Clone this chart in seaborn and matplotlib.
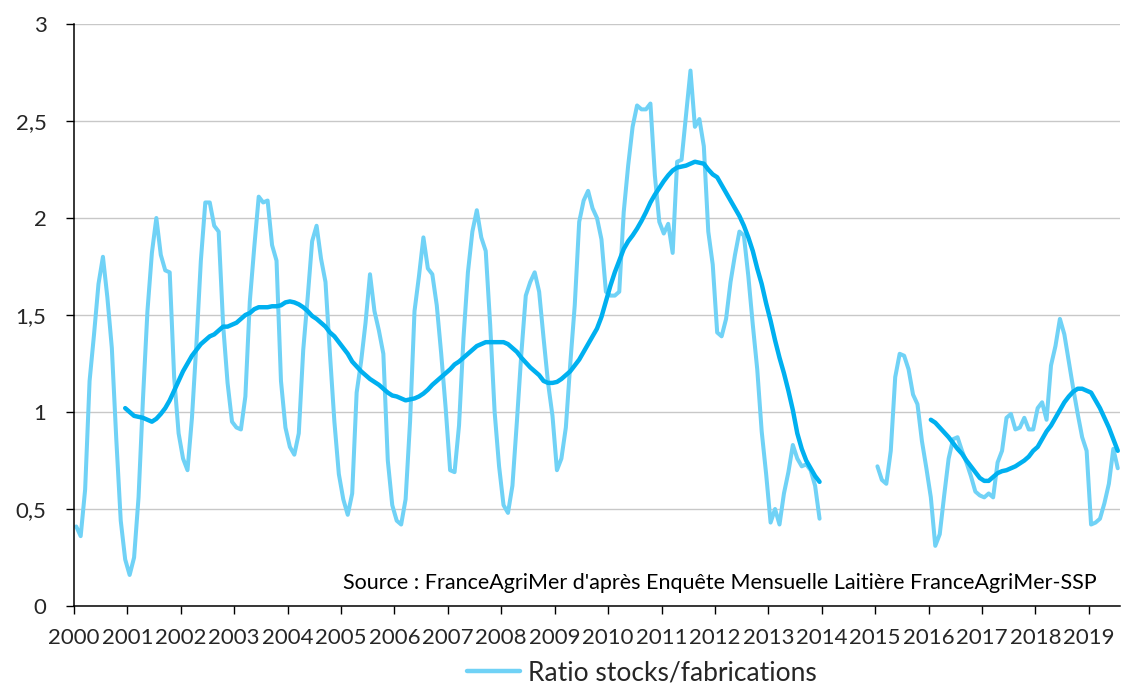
import numpy as np
import pandas as pd
import matplotlib
matplotlib.use("Agg")
import matplotlib.pyplot as plt
import seaborn as sns
from matplotlib.lines import Line2D

# ---------------- data (monthly ratio stocks / fabrications) ----------------
year_labels = [str(y) for y in range(2000, 2020)]
y_tick_values = [0, 0.5, 1, 1.5, 2, 2.5, 3]
y_tick_labels = ["0", "0,5", "1", "1,5", "2", "2,5", "3"]

r2000 = [0.41, 0.36, 0.60, 1.16, 1.40, 1.66, 1.80, 1.59, 1.33, 0.86, 0.44, 0.24]
r2001 = [0.16, 0.25, 0.56, 1.07, 1.52, 1.82, 2.00, 1.81, 1.73, 1.72, 1.18, 0.89]
r2002 = [0.76, 0.70, 0.97, 1.35, 1.78, 2.08, 2.08, 1.96, 1.93, 1.45, 1.15, 0.95]
r2003 = [0.92, 0.91, 1.08, 1.57, 1.85, 2.11, 2.08, 2.09, 1.86, 1.78, 1.16, 0.92]
r2004 = [0.82, 0.78, 0.89, 1.32, 1.59, 1.88, 1.96, 1.79, 1.67, 1.30, 0.95, 0.68]
r2005 = [0.55, 0.47, 0.58, 1.10, 1.26, 1.46, 1.71, 1.52, 1.42, 1.30, 0.75, 0.52]
r2006 = [0.44, 0.42, 0.55, 0.95, 1.52, 1.70, 1.90, 1.74, 1.71, 1.55, 1.30, 1.02]
r2007 = [0.70, 0.69, 0.93, 1.38, 1.72, 1.93, 2.04, 1.90, 1.83, 1.45, 1.00, 0.72]
r2008 = [0.52, 0.48, 0.62, 0.95, 1.30, 1.60, 1.67, 1.72, 1.62, 1.38, 1.15, 0.98]
r2009 = [0.70, 0.76, 0.92, 1.25, 1.55, 1.98, 2.09, 2.14, 2.05, 2.00, 1.89, 1.62]
r2010 = [1.60, 1.60, 1.62, 2.03, 2.27, 2.47, 2.58, 2.56, 2.56, 2.59, 2.22, 1.98]
r2011 = [1.92, 1.97, 1.82, 2.29, 2.30, 2.53, 2.76, 2.47, 2.51, 2.37, 1.93, 1.76]
r2012 = [1.41, 1.39, 1.48, 1.67, 1.81, 1.93, 1.91, 1.70, 1.45, 1.22, 0.90, 0.68]
r2013 = [0.43, 0.50, 0.42, 0.58, 0.69, 0.83, 0.76, 0.72, 0.73, 0.70, 0.62, 0.45]
r2014 = [np.nan] * 12
r2015 = [0.72, 0.65, 0.63, 0.80, 1.18, 1.30, 1.29, 1.22, 1.09, 1.04, 0.85, 0.71]
r2016 = [0.56, 0.31, 0.37, 0.57, 0.76, 0.86, 0.87, 0.80, 0.74, 0.67, 0.59, 0.57]
r2017 = [0.56, 0.58, 0.56, 0.74, 0.80, 0.97, 0.99, 0.91, 0.92, 0.97, 0.91, 0.91]
r2018 = [1.02, 1.05, 0.96, 1.24, 1.34, 1.48, 1.40, 1.26, 1.12, 0.99, 0.87, 0.80]
r2019 = [0.42, 0.43, 0.45, 0.53, 0.63, 0.81, 0.71]

ratio = (r2000 + r2001 + r2002 + r2003 + r2004 + r2005 + r2006 + r2007 + r2008
         + r2009 + r2010 + r2011 + r2012 + r2013 + r2014 + r2015 + r2016 + r2017
         + r2018 + r2019)

# 12-month moving average (dark line)
# first part: Dec 2000 -> Dec 2013
ma_part1 = [1.02, 1.00, 0.98, 0.975, 0.97, 0.96, 0.95, 0.965, 0.99, 1.02, 1.06, 1.11,
            1.16, 1.21, 1.25, 1.29, 1.32, 1.35, 1.37, 1.39, 1.40, 1.42, 1.44, 1.44,
            1.45, 1.46, 1.48, 1.50, 1.51, 1.53, 1.54, 1.54, 1.54, 1.545, 1.545, 1.55,
            1.565, 1.57, 1.565, 1.555, 1.54, 1.52, 1.495, 1.48, 1.46, 1.44, 1.41, 1.39,
            1.36, 1.33, 1.30, 1.26, 1.235, 1.21, 1.19, 1.17, 1.155, 1.14, 1.12, 1.10,
            1.085, 1.08, 1.07, 1.06, 1.065, 1.07, 1.08, 1.095, 1.115, 1.14, 1.16, 1.18,
            1.20, 1.22, 1.245, 1.26, 1.28, 1.30, 1.32, 1.34, 1.35, 1.36, 1.36, 1.36,
            1.36, 1.36, 1.35, 1.33, 1.31, 1.28, 1.255, 1.23, 1.21, 1.19, 1.16, 1.15,
            1.15, 1.155, 1.17, 1.19, 1.21, 1.24, 1.27, 1.31, 1.35, 1.39, 1.43, 1.49,
            1.57, 1.65, 1.72, 1.78, 1.84, 1.88, 1.91, 1.945, 1.985, 2.03, 2.08, 2.12,
            2.155, 2.19, 2.22, 2.245, 2.26, 2.265, 2.27, 2.28, 2.29, 2.285, 2.28, 2.25,
            2.225, 2.21, 2.17, 2.13, 2.09, 2.05, 2.01, 1.96, 1.90, 1.83, 1.74, 1.66,
            1.56, 1.47, 1.37, 1.28, 1.20, 1.11, 1.01, 0.89, 0.81, 0.75, 0.71, 0.67,
            0.64]
# second part: Jan 2016 -> Jul 2019
ma_part2 = [0.96, 0.945, 0.92, 0.895, 0.87, 0.84, 0.81, 0.785, 0.75, 0.72, 0.69, 0.66,
            0.645, 0.645, 0.665, 0.685, 0.695, 0.70, 0.71, 0.72, 0.735, 0.75, 0.77, 0.80,
            0.82, 0.86, 0.90, 0.93, 0.97, 1.01, 1.05, 1.08, 1.105, 1.12, 1.12, 1.11,
            1.10, 1.06, 1.02, 0.97, 0.92, 0.86, 0.80]

ma_start1 = 11    # Dec 2000 (month index from Jan 2000)
ma_start2 = 192   # Jan 2016

series_label = "Ratio stocks/fabrications"
source_text = "Source : FranceAgriMer d'après Enquête Mensuelle Laitière FranceAgriMer-SSP"

# ---------------- frame ----------------
n = len(ratio)
ma = [np.nan] * n
for i, v in enumerate(ma_part1):
    ma[ma_start1 + i] = v
for i, v in enumerate(ma_part2):
    ma[ma_start2 + i] = v

df = pd.DataFrame({"pos": np.arange(n) + 0.5, "ratio": ratio, "ma": ma})
df["seg_r"] = df["ratio"].isna().astype(int).diff().fillna(0).ne(0).cumsum()
df["seg_m"] = df["ma"].isna().astype(int).diff().fillna(0).ne(0).cumsum()

LIGHT = "#70D2F6"
DARK = "#00B0F0"

sns.set_style("white")
plt.rcParams["font.family"] = ["Lato", "DejaVu Sans"]

fig = plt.figure(figsize=(11.22, 6.84), dpi=100)
ax = fig.add_axes([74 / 1122, 1 - 606 / 684, (1120 - 74) / 1122, (606 - 24) / 684])

for _, part in df.groupby("seg_r"):
    part = part.dropna(subset=["ratio"])
    if len(part) == 0:
        continue
    sns.lineplot(data=part, x="pos", y="ratio", color=LIGHT, linewidth=2.9,
                 estimator=None, ax=ax, solid_capstyle="round",
                 solid_joinstyle="round", legend=False)
for _, part in df.groupby("seg_m"):
    part = part.dropna(subset=["ma"])
    if len(part) == 0:
        continue
    sns.lineplot(data=part, x="pos", y="ma", color=DARK, linewidth=3.2,
                 estimator=None, ax=ax, solid_capstyle="round",
                 solid_joinstyle="round", legend=False)

ax.set_xlim(0, n)
ax.set_ylim(0, 3)
ax.set_xticks([12 * i for i in range(len(year_labels))])
ax.set_xticklabels(year_labels)
ax.set_yticks(y_tick_values)
ax.set_yticklabels(y_tick_labels)
ax.set_xlabel("")
ax.set_ylabel("")

ax.grid(axis="y", color="#C8C8C8", linewidth=1.0)
ax.grid(axis="x", visible=False)
ax.set_axisbelow(True)
for s in ["top", "right"]:
    ax.spines[s].set_visible(False)
for s in ["left", "bottom"]:
    ax.spines[s].set_color("black")
    ax.spines[s].set_linewidth(1.1)
    ax.spines[s].set_zorder(5)

ax.tick_params(axis="y", direction="out", length=5.8, width=1.0, color="black",
               pad=14, labelsize=16, left=True)
ax.tick_params(axis="x", direction="out", length=5.8, width=1.0, color="black",
               pad=10, labelsize=16, bottom=True)

fig.text(1097 / 1122, 1 - 583 / 684, source_text, ha="right", va="center",
         fontsize=15.5, color="black")

handle = Line2D([], [], color=LIGHT, linewidth=3.2)
leg = fig.legend([handle], [series_label], loc="center left",
                 bbox_to_anchor=(467 / 1122, 1 - 673 / 684), frameon=False,
                 fontsize=19, handlelength=2.0, handletextpad=0.3,
                 borderpad=0, borderaxespad=0)

fig.savefig("out.png", dpi=100)
